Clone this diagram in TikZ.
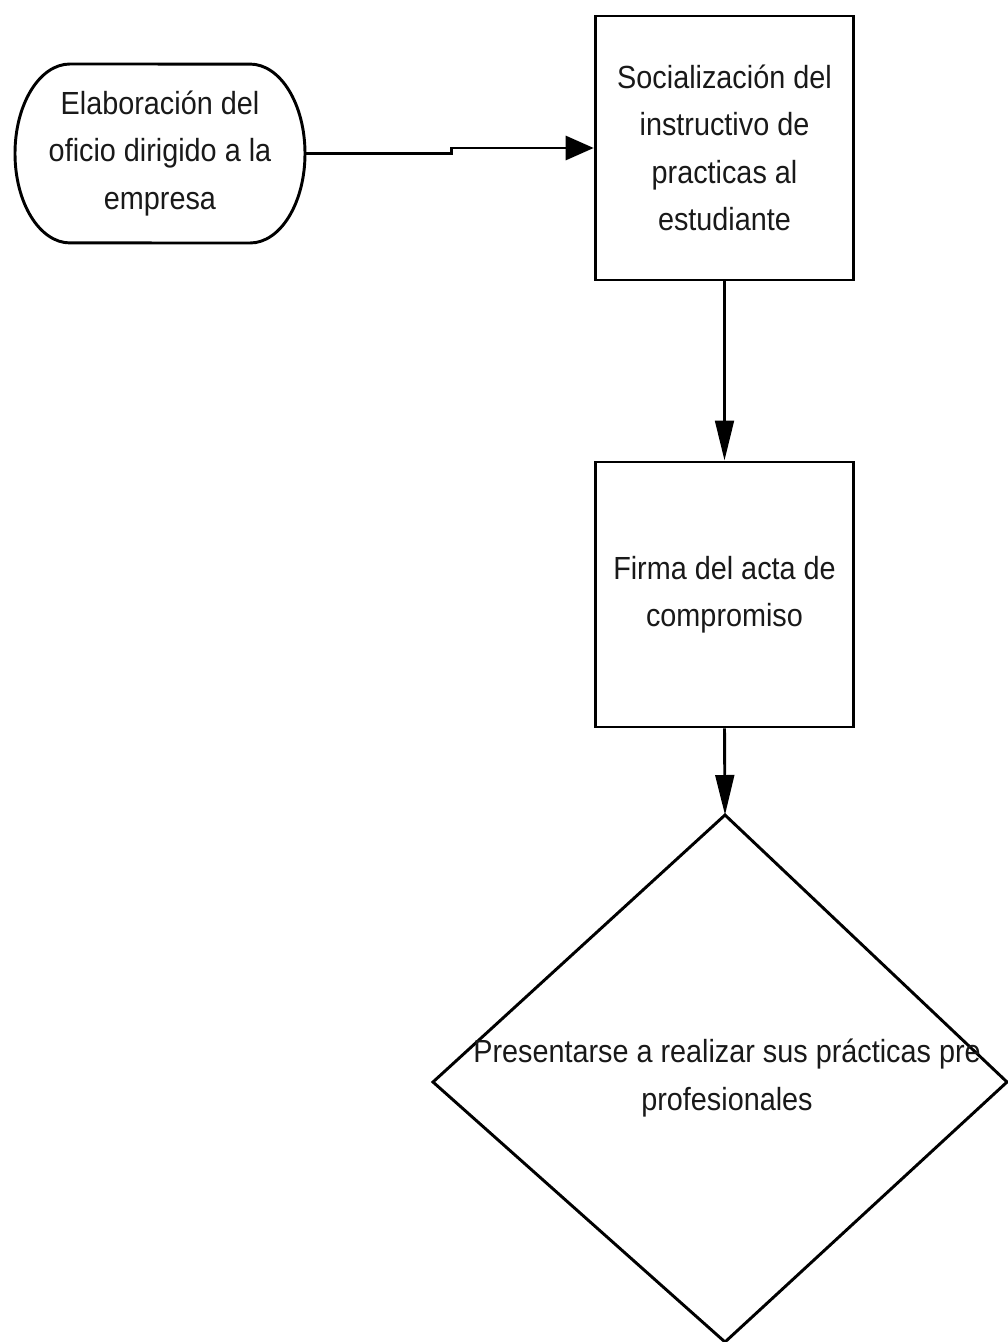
\documentclass[tikz,border=0pt]{standalone}
\usepackage{fontspec}
\setmainfont{Liberation Sans}[FakeStretch=0.9]
\usetikzlibrary{arrows.meta}
\begin{document}
\begin{tikzpicture}[x=0.75pt,y=-0.75pt,line width=2.2pt,
  lbl/.style={align=center,font=\fontsize{24}{35.6}\selectfont,text=black!90},
  procbox/.style={draw,lbl,minimum width=194pt,inner sep=0pt},
  hhead/.style={-{Triangle[length=21pt,width=18pt]}},
  vhead/.style={-{Triangle[length=30pt,width=14pt]}}]
\useasboundingbox (0,0) rectangle (1007,1342);
% start terminal
\node[lbl,minimum width=217.5pt,minimum height=134.25pt,inner sep=0pt] (a) at (160,153.5)
  {Elaboración del\\oficio dirigido a la\\empresa};
\draw (70,64) arc[start angle=90,end angle=270,x radius=41.25pt,y radius=67.1pt]
  -- (250,243) arc[start angle=270,end angle=450,x radius=41.25pt,y radius=67.1pt] -- cycle;
% boxes
\node[procbox,minimum height=198pt] (s) at (724.5,148)
  {Socialización del\\instructivo de\\practicas al\\estudiante};
\node[procbox,minimum height=198.75pt] (f) at (724.5,594.5)
  {Firma del acta de\\compromiso};
% decision
\coordinate (dtop) at (725,815);
\draw (dtop) -- (1007,1082) -- (725,1342) -- (433,1082) -- cycle;
\node[lbl] (d) at (727,1078) {Presentarse a realizar sus prácticas pre\\profesionales};
% connectors
\draw[hhead] (a.east) -- ++(145,0) |- (s.west);
\draw[vhead] (s.south) -- (f.north);
\draw[vhead] (f.south) -- (dtop);
\end{tikzpicture}
\end{document}
